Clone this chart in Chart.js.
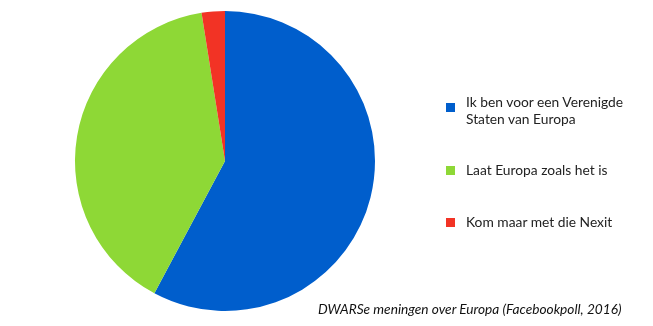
<!DOCTYPE html>
<html>
<head>
<meta charset="utf-8">
<script src="https://cdn.jsdelivr.net/npm/chart.js@4.4.0/dist/chart.umd.min.js"></script>
<style>
  body { margin: 0; background: #fff; font-family: Lato, sans-serif; }
  #wrap { position: relative; width: 653px; height: 326px; }
  #chartBox { position: absolute; left: 0; top: 0; width: 450px; height: 326px; }
  #legend { position: absolute; left: 446px; top: 0; }
  .item { position: absolute; left: 0; width: 205px; font-size: 13.8px; line-height: 17px; color: #222; }
  .item span.box { position: absolute; left: 0; width: 9px; height: 9px; }
  .item div { margin-left: 20px; }
  #caption { position: absolute; left: 318px; top: 300px; font-size: 13.7px; font-style: italic; color: #111; white-space: nowrap; }
</style>
</head>
<body>
<div id="wrap">
  <div id="chartBox"><canvas id="myChart"></canvas></div>
  <div id="legend"></div>
  <div id="caption">DWARSe meningen over Europa (Facebookpoll, 2016)</div>
</div>
<script>
const labels = [['Ik ben voor een Verenigde', 'Staten van Europa'], ['Laat Europa zoals het is'], ['Kom maar met die Nexit']]
const waarden = [57.8, 39.7, 2.5]
const kleuren = ['#005ECC', '#8ED836', '#F23325']

// legend positions (top of text block) for each item
const legendTops = [93, 161, 213]

var ctx = document.getElementById('myChart')
var myChart = new Chart(ctx, {
    type: 'pie',
    data: {
        labels: labels.map(l => l.join(' ')),
        datasets: [{
            data: waarden,
            backgroundColor: kleuren,
            borderWidth: 0
        }]
    },
    options: {
        responsive: true,
        maintainAspectRatio: false,
        animation: false,
        layout: { padding: { top: 11, bottom: 15 } },
        plugins: {
            legend: { display: false },
            tooltip: { enabled: false }
        }
    }
})

let body = ''
for (var i = 0; i < labels.length; i++) {
    const boxTop = labels[i].length > 1 ? 10 : 5
    body += `<div class="item" style="top:${legendTops[i]}px"><span class="box" style="top:${boxTop}px;background:${kleuren[i]}"></span><div>${labels[i].join('<br>')}</div></div>`
}
document.getElementById('legend').innerHTML = body
</script>
</body>
</html>
